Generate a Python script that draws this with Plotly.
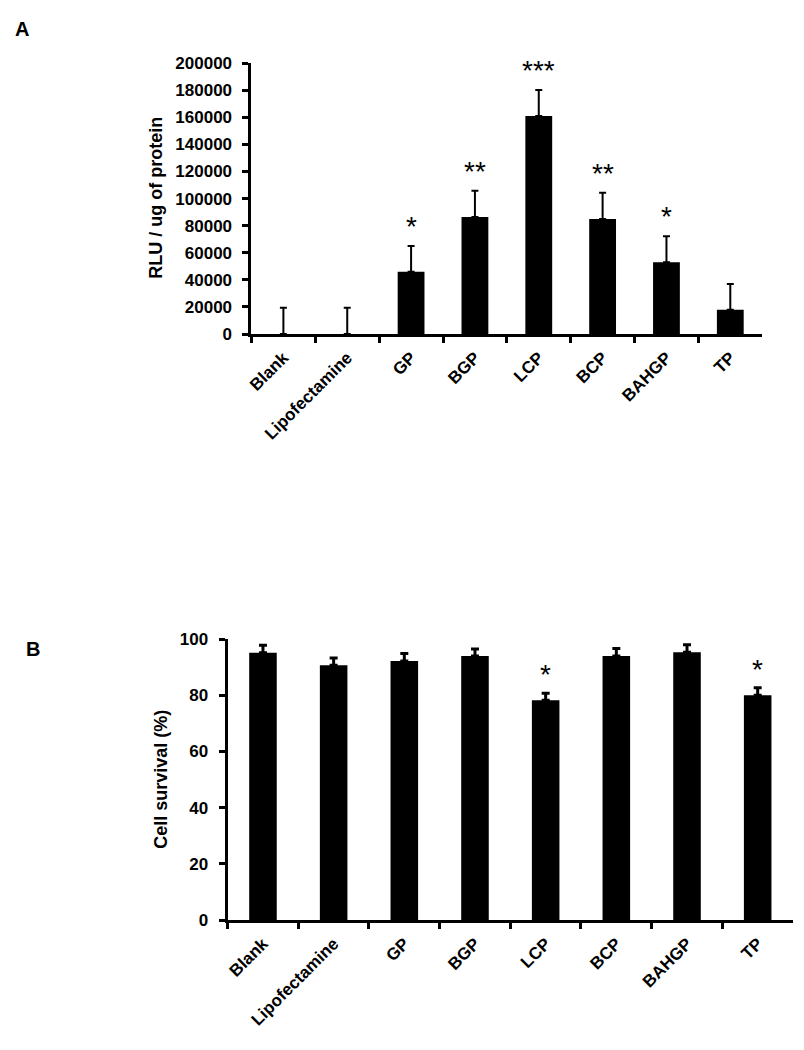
import plotly.graph_objects as go

categories = ["Blank", "Lipofectamine", "GP", "BGP", "LCP", "BCP", "BAHGP", "TP"]

# Panel A: luciferase expression (RLU / ug of protein)
rlu_mean = [0, 0, 46000, 86500, 161000, 85000, 53000, 18000]
rlu_err = [19500, 19500, 19000, 19300, 19200, 19300, 19300, 19000]
rlu_sig = ["", "", "*", "**", "***", "**", "*", ""]

# Panel B: cell survival (%)
surv_mean = [95.1, 90.7, 92.2, 94.0, 78.2, 94.0, 95.3, 80.0]
surv_err = [2.7, 2.6, 2.7, 2.5, 2.5, 2.6, 2.7, 2.7]
surv_sig = ["", "", "", "", "*", "", "", "*"]

FONT = "Arial, Liberation Sans, sans-serif"
# page is 804x1050; the browser adds an 8px body margin around the figure
M = 8
W, H = 804 - 2 * M, 1050 - 2 * M


def px(x):
    return (x - M) / W


def py(y):
    return 1 - (y - M) / H


fig = go.Figure()

fig.add_trace(go.Bar(
    x=categories, y=rlu_mean, xaxis="x", yaxis="y",
    marker=dict(color="black", line=dict(width=0)), width=0.42,
    error_y=dict(type="data", symmetric=False, array=rlu_err,
                 arrayminus=[0] * len(rlu_err), color="black",
                 thickness=2, width=3.5),
    showlegend=False, hoverinfo="skip",
))

fig.add_trace(go.Bar(
    x=categories, y=surv_mean, xaxis="x2", yaxis="y2",
    marker=dict(color="black", line=dict(width=0)), width=0.39,
    error_y=dict(type="data", symmetric=False, array=surv_err,
                 arrayminus=[0] * len(surv_err), color="black",
                 thickness=3, width=4),
    showlegend=False, hoverinfo="skip",
))

tickfont = dict(family=FONT, size=17, color="black", weight="bold")
xtickfont = dict(family=FONT, size=17, color="black", weight="bold")

common_x = dict(type="category", showline=True, linewidth=3, linecolor="black",
                ticks="outside", tickson="boundaries", ticklen=6, tickwidth=3,
                tickcolor="black", tickangle=-45, tickfont=xtickfont,
                ticklabelstandoff=4,
                showgrid=False, zeroline=False, fixedrange=True)
common_y = dict(showline=True, linewidth=3, linecolor="black", ticks="outside",
                ticklen=6, tickwidth=3, tickcolor="black", tickfont=tickfont,
                ticklabelstandoff=7,
                showgrid=False, zeroline=False, fixedrange=True)

fig.update_layout(
    width=W, height=H,
    margin=dict(l=0, r=0, t=0, b=0),
    paper_bgcolor="white", plot_bgcolor="white",
    bargap=0.5,
    xaxis=dict(domain=[px(248), px(762)], anchor="y", **common_x),
    yaxis=dict(domain=[py(331), py(55)], anchor="x",
               range=[0, 200000], tickmode="linear", tick0=0, dtick=20000,
               tickformat="d", **common_y),
    xaxis2=dict(domain=[px(224), px(793)], anchor="y2", **common_x),
    yaxis2=dict(domain=[py(928), py(641.7)], anchor="x2",
                range=[0, 100], tickmode="linear", tick0=0, dtick=20,
                **common_y),
)

annotations = []
star_font = dict(family=FONT, size=28, color="black")
# significance stars
for c, m, e, s in zip(categories, rlu_mean, rlu_err, rlu_sig):
    if s:
        annotations.append(dict(x=c, y=m + e, xref="x", yref="y", text=s,
                                showarrow=False, yanchor="bottom", yshift=2,
                                font=star_font))
for c, m, e, s in zip(categories, surv_mean, surv_err, surv_sig):
    if s:
        annotations.append(dict(x=c, y=m + e, xref="x2", yref="y2", text=s,
                                showarrow=False, yanchor="bottom", yshift=1,
                                font=star_font))

# axis titles
title_font = dict(family=FONT, size=18, color="black", weight="bold")
annotations.append(dict(x=px(152), y=py(192), xref="paper", yref="paper",
                        text="RLU / ug of protein", textangle=-90, showarrow=False,
                        xanchor="center", yanchor="middle", font=title_font))
annotations.append(dict(x=px(157), y=py(785), xref="paper", yref="paper",
                        text="Cell survival (%)", textangle=-90, showarrow=False,
                        xanchor="center", yanchor="middle", font=title_font))
# panel letters
letter_font = dict(family=FONT, size=20, color="black", weight="bold")
annotations.append(dict(x=px(17), y=py(20), xref="paper", yref="paper",
                        text="A", showarrow=False, xanchor="center", yanchor="middle",
                        font=letter_font))
annotations.append(dict(x=px(28.5), y=py(652), xref="paper", yref="paper",
                        text="B", showarrow=False, xanchor="center", yanchor="middle",
                        font=letter_font))

fig.update_layout(annotations=annotations)

fig.write_html("out.html", config={"displayModeBar": False})
